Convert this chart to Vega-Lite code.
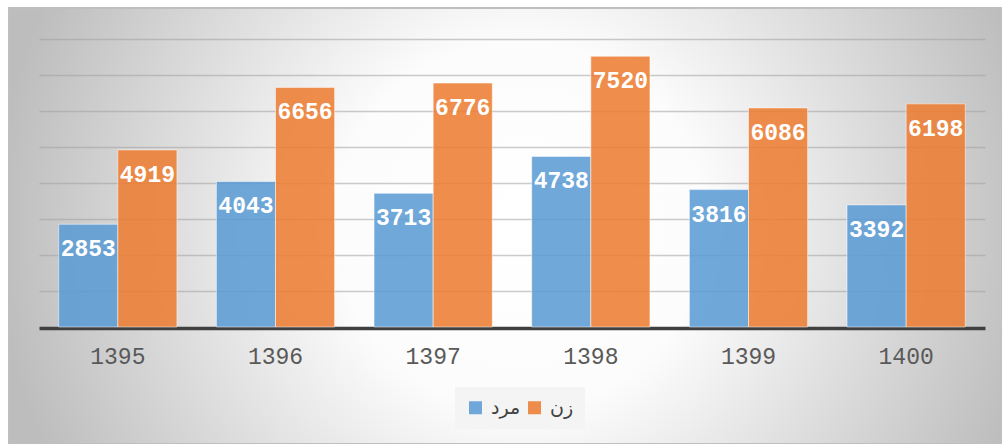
{
  "$schema": "https://vega.github.io/schema/vega-lite/v6.json",
  "width": 993,
  "height": 436,
  "autosize": {"type": "none"},
  "padding": {"left": 9, "top": 8, "right": 0, "bottom": 0},
  "background": "#ffffff",
  "view": {
    "fill": {
      "gradient": "radial",
      "x1": 0.515, "y1": 0.5, "r1": 0,
      "x2": 0.515, "y2": 0.5, "r2": 0.53,
      "stops": [
        {"offset": 0, "color": "#ffffff"},
        {"offset": 0.35, "color": "#fcfcfc"},
        {"offset": 1, "color": "#bdbdbd"}
      ]
    },
    "stroke": "#bfbfbf",
    "strokeWidth": 2
  },
  "data": {
    "values": [
      {"year": "1395", "sex": "مرد", "value": 2853},
      {"year": "1395", "sex": "زن", "value": 4919},
      {"year": "1396", "sex": "مرد", "value": 4043},
      {"year": "1396", "sex": "زن", "value": 6656},
      {"year": "1397", "sex": "مرد", "value": 3713},
      {"year": "1397", "sex": "زن", "value": 6776},
      {"year": "1398", "sex": "مرد", "value": 4738},
      {"year": "1398", "sex": "زن", "value": 7520},
      {"year": "1399", "sex": "مرد", "value": 3816},
      {"year": "1399", "sex": "زن", "value": 6086},
      {"year": "1400", "sex": "مرد", "value": 3392},
      {"year": "1400", "sex": "زن", "value": 6198}
    ]
  },
  "encoding": {
    "x": {
      "field": "year",
      "type": "ordinal",
      "title": null,
      "scale": {"range": [30, 976], "paddingInner": 0.25, "paddingOuter": 0.125},
      "axis": {
        "orient": "bottom",
        "offset": -116,
        "ticks": false,
        "labelPadding": 17,
        "labelAngle": 0,
        "labelFont": "Liberation Mono",
        "labelFontSize": 23,
        "labelColor": "#595959",
        "domainColor": "#404040",
        "domainWidth": 3.5,
        "grid": false
      }
    },
    "xOffset": {
      "field": "sex",
      "type": "nominal",
      "scale": {"domain": ["مرد", "زن"], "paddingInner": 0, "paddingOuter": 0}
    },
    "y": {
      "field": "value",
      "type": "quantitative",
      "title": null,
      "scale": {"domain": [0, 8000], "range": [319, 31], "nice": false, "zero": true},
      "axis": {
        "values": [1000, 2000, 3000, 4000, 5000, 6000, 7000, 8000],
        "grid": true,
        "gridColor": "#a0a0a0",
        "gridOpacity": 0.55,
        "gridWidth": 1.3,
        "labels": false,
        "ticks": false,
        "domain": false
      }
    }
  },
  "layer": [
    {
      "mark": {"type": "bar", "fillOpacity": 0.87, "stroke": "#ffffff", "strokeOpacity": 0.5, "strokeWidth": 1},
      "encoding": {
        "color": {
          "field": "sex",
          "type": "nominal",
          "title": null,
          "scale": {"domain": ["مرد", "زن"], "range": ["#5b9bd5", "#ed7d31"]},
          "legend": {
            "orient": "none",
            "legendX": 446,
            "legendY": 379,
            "direction": "horizontal",
            "fillColor": "#f4f4f4",
            "padding": 11,
            "symbolType": "square",
            "symbolSize": 169,
            "symbolStrokeWidth": 0,
            "symbolOpacity": 0.87,
            "labelFont": "DejaVu Sans",
            "labelFontSize": 19,
            "labelColor": "#404040",
            "labelOffset": 6,
            "columnPadding": 4
          }
        }
      }
    },
    {
      "mark": {
        "type": "text",
        "color": "#ffffff",
        "font": "Liberation Mono",
        "fontWeight": "bold",
        "fontSize": 23,
        "align": "center",
        "baseline": "alphabetic",
        "dy": 32
      },
      "encoding": {
        "text": {"field": "value", "type": "quantitative", "format": "d"}
      }
    }
  ]
}
